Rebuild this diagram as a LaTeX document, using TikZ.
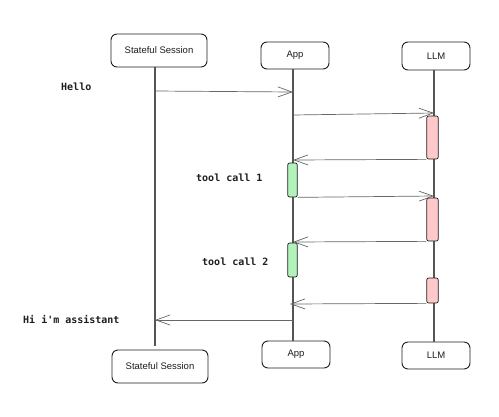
\documentclass[tikz,border=0pt]{standalone}
\usepackage{fontspec}
\newfontfamily\monofont{DejaVu Sans Mono}
\newfontfamily\handfont{Liberation Sans}
\usetikzlibrary{arrows.meta}
\definecolor{ink}{HTML}{1E1E1E}
\definecolor{lifec}{HTML}{555555}
\definecolor{msgc}{HTML}{666666}
\definecolor{redf}{HTML}{FFC9C9}
\definecolor{greenf}{HTML}{B2F2BB}
\begin{document}
\begin{tikzpicture}[x=1pt,y=-1pt,
  actor/.style={draw=ink, line width=0.9pt, rounded corners=6pt, fill=white,
    font=\handfont\fontsize{9.5}{11}\selectfont, inner sep=0pt, text=ink},
  life/.style={draw=lifec, line width=1.1pt},
  msg/.style={draw=msgc, line width=0.7pt, -{Straight Barb[length=14pt,width=10pt]}},
  actbox/.style={draw=ink, line width=0.7pt, rounded corners=2pt, inner sep=0pt},
  lbl/.style={font=\monofont\bfseries\fontsize{10}{12}\selectfont, text=ink, anchor=west, inner sep=0pt}
]
\useasboundingbox (0,0) rectangle (499,416);
% actors
\node[actor, minimum width=96pt, minimum height=33pt] (s1) at (159,50.5) {Stateful Session};
\node[actor, minimum width=68pt, minimum height=27pt] (a1) at (295,55.5) {App};
\node[actor, minimum width=68pt, minimum height=28pt] (l1) at (436,56) {LLM};
\node[actor, minimum width=96pt, minimum height=33pt] (s2) at (160,366.5) {Stateful Session};
\node[actor, minimum width=68pt, minimum height=27pt] (a2) at (296,354.5) {App};
\node[actor, minimum width=68pt, minimum height=27pt] (l2) at (436,355.5) {LLM};
% lifelines
\coordinate (sT) at (155,67);  \coordinate (sB) at (155,346);
\coordinate (aT) at (293,69);  \coordinate (aB) at (293,341);
\coordinate (lT) at (434,70);  \coordinate (lB) at (434,342);
\draw[life] (sT) -- (sB);
\draw[life] (aT) -- (aB);
\draw[life] (lT) -- (lB);
% activations
\node[actbox, fill=redf, minimum width=11.5pt, minimum height=43pt] (r1) at (432.5,137.5) {};
\node[actbox, fill=redf, minimum width=11.5pt, minimum height=43pt] (r2) at (432.5,219.5) {};
\node[actbox, fill=redf, minimum width=11.5pt, minimum height=25pt] (r3) at (432.5,290.5) {};
\node[actbox, fill=greenf, minimum width=9.5pt, minimum height=34pt] (g1) at (292.5,180) {};
\node[actbox, fill=greenf, minimum width=9.5pt, minimum height=34pt] (g2) at (292.5,260) {};
% message end points
\coordinate (m1a) at (155,91);  \coordinate (m1b) at (293,92);
\coordinate (m2a) at (293,115); \coordinate (m2b) at (434,113);
\coordinate (m3b) at (293,160);
\coordinate (m4b) at (434,196);
\coordinate (m5b) at (293,242);
\coordinate (m6b) at (290,304);
\coordinate (m7a) at (293,320); \coordinate (m7b) at (155,320);
\draw[msg] (m1a) -- (m1b);
\draw[msg] (m2a) -- (m2b);
\draw[msg] (r1.south west) -- (m3b);
\draw[msg] (g1.south east) -- (m4b);
\draw[msg] (r2.south west) -- (m5b);
\draw[msg] (r3.south west) -- (m6b);
\draw[msg] (m7a) -- (m7b);
% labels
\node[lbl] (t1) at (61,87) {Hello};
\node[lbl] (t2) at (196,178) {tool call 1};
\node[lbl] (t3) at (202,262) {tool call 2};
\node[lbl] (t4) at (23,319.5) {Hi i'm assistant};
\end{tikzpicture}
\end{document}
